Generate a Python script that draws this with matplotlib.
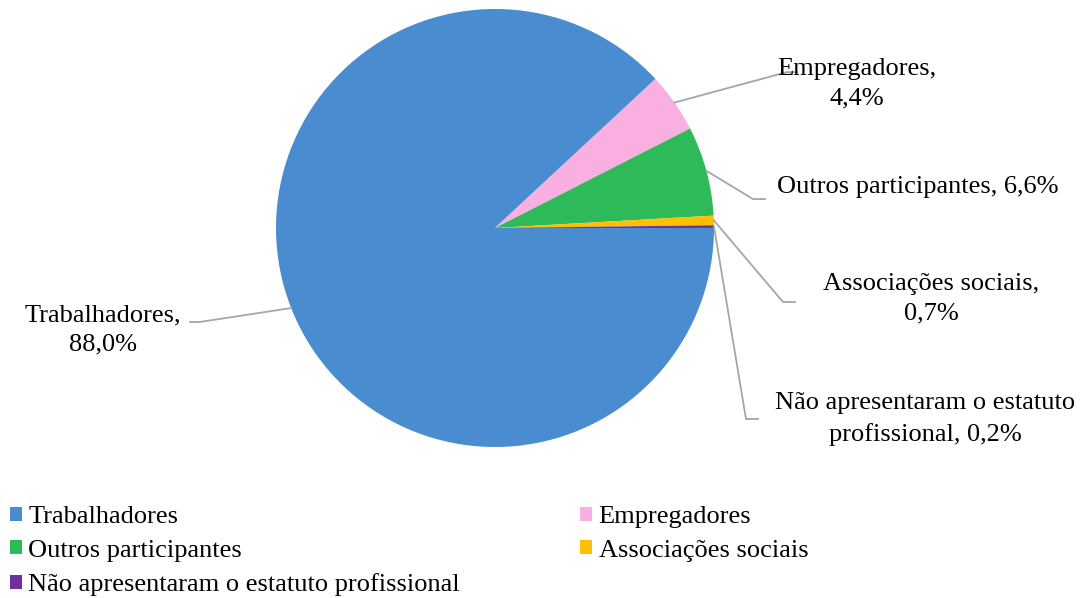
import numpy as np
import matplotlib.pyplot as plt
from matplotlib.patches import Patch

plt.rcParams['font.family'] = ['Liberation Serif', 'DejaVu Serif']

labels = ["Trabalhadores", "Empregadores", "Outros participantes",
          "Associações sociais", "Não apresentaram o estatuto profissional"]
values = [88.0, 4.4, 6.6, 0.7, 0.2]
pct_text = ["88,0%", "4,4%", "6,6%", "0,7%", "0,2%"]
colors = ["#4A8CD0", "#F9AFDF", "#2EBA58", "#FFC000", "#7030A0"]

fig = plt.figure(figsize=(10.83, 5.98), dpi=100)
ax = fig.add_axes([276 / 1083, 151 / 598, 438 / 1083, 438 / 598])
wedges, _ = ax.pie(values, colors=colors, startangle=0, counterclock=False,
                   radius=1.0)
ax.set_xlim(-1, 1)
ax.set_ylim(-1, 1)
ax.set_aspect('equal')

# label text, leader elbow and text position (data coords)
data_labels = [
    labels[0] + ",\n" + pct_text[0],
    labels[1] + ",\n" + pct_text[1],
    labels[2] + ", " + pct_text[2],
    labels[3] + ",\n" + pct_text[3],
    "Não apresentaram o estatuto\nprofissional, " + pct_text[4],
]
elbows = [(-1.347, -0.429, -1.393), (1.333, 0.712, 1.379), (1.178, 0.132, 1.233),
          (1.315, -0.338, 1.370), (1.146, -0.872, 1.201)]
text_pos = [(-1.790, -0.466, 'center'), (1.653, 0.660, 'center'),
            (1.288, 0.187, 'left'), (1.991, -0.324, 'center'),
            (1.963, -0.872, 'center')]

for w, lab, (ex, ey, hx), (tx, ty, ha) in zip(wedges, data_labels, elbows, text_pos):
    ang = np.deg2rad((w.theta1 + w.theta2) / 2)
    px, py = np.cos(ang), np.sin(ang)
    ax.plot([px, ex, hx], [py, ey, ey], color="#A6A6A6", lw=1.3, clip_on=False)
    ax.text(tx, ty, lab, ha=ha, va='center', fontsize=19, linespacing=1.45,
            multialignment='center', color='#000000')

order = [0, 2, 4, 1, 3]
handles = [Patch(facecolor=colors[i], edgecolor='none', label=labels[i]) for i in order]
fig.legend(handles=handles, loc='upper left', bbox_to_anchor=(10 / 1083, 1 - 506 / 598),
           ncol=2, frameon=False, fontsize=19, handlelength=0.45, handleheight=0.45,
           handletextpad=0.25, columnspacing=4.55, labelspacing=0.44, borderpad=0,
           borderaxespad=0)

fig.savefig("out.png", dpi=100)
